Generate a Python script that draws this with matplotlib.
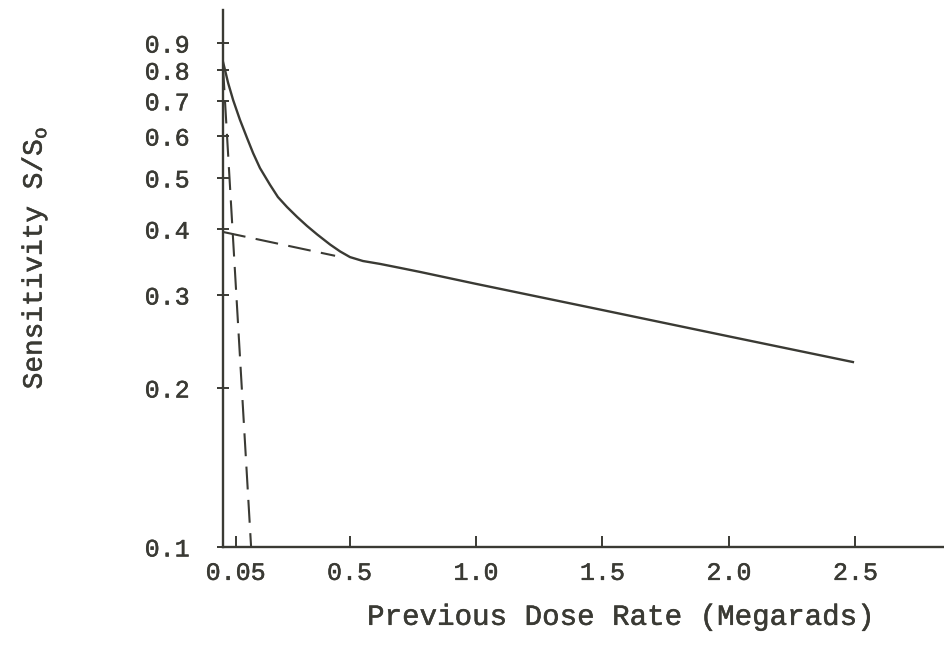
import matplotlib
matplotlib.use("Agg")
import matplotlib.pyplot as plt
import matplotlib.patheffects as pe
import numpy as np

# values
curve_x = [0.0, 0.008, 0.020, 0.040, 0.067, 0.095, 0.119, 0.146, 0.186, 0.217,
           0.253, 0.293, 0.332, 0.372, 0.423, 0.463, 0.502, 0.553, 0.621, 0.700,
           0.779, 1.0, 1.5, 2.0, 2.49]
curve_y = [0.829, 0.800, 0.757, 0.702, 0.644, 0.595, 0.557, 0.522, 0.485, 0.460,
           0.4404, 0.4217, 0.4055, 0.3908, 0.374, 0.3628, 0.354, 0.348, 0.3436, 0.3377,
           0.3318, 0.315, 0.281, 0.2505, 0.224]

slow_x = [0.0, 0.443]
slow_y = [0.395, 0.356]

fast_x = [0.0, 0.111]
fast_y = [0.81, 0.10]

xticks = [0.05, 0.5, 1.0, 1.5, 2.0, 2.5]
xtick_labels = ["0.05", "0.5", "1.0", "1.5", "2.0", "2.5"]
yticks = [0.1, 0.2, 0.3, 0.4, 0.5, 0.6, 0.7, 0.8, 0.9]
ytick_labels = ["0.1", "0.2", "0.3", "0.4", "0.5", "0.6", "0.7", "0.8", "0.9"]

ink = "#3a3a34"
plt.rcParams["font.family"] = ["Liberation Mono", "DejaVu Sans Mono"]
plt.rcParams["text.color"] = ink

fig = plt.figure(figsize=(9.45, 6.47), dpi=100)
ax = fig.add_axes([0.236, 0.1546, 0.764, 0.83])

ax.plot(curve_x, curve_y, color=ink, lw=1.7, solid_joinstyle="round")
ax.plot(slow_x, slow_y, color=ink, lw=1.5, dashes=(11, 5))
ax.plot(fast_x, fast_y, color=ink, lw=1.5, dashes=(11, 5))

ax.set_yscale("log")
ax.set_xlim(0, 2.854)
ax.set_ylim(0.1, 1.04)

ax.set_xticks(xticks)
ax.set_xticklabels(xtick_labels)
ax.set_yticks(yticks)
ax.set_yticklabels(ytick_labels)
ax.yaxis.set_minor_locator(matplotlib.ticker.NullLocator())

for side in ["top", "right"]:
    ax.spines[side].set_visible(False)
for side in ["left", "bottom"]:
    ax.spines[side].set_color(ink)
    ax.spines[side].set_linewidth(1.7)

ax.tick_params(axis="x", direction="in", length=8, width=1.4, color=ink,
               labelsize=18, labelcolor=ink, pad=10)
ax.tick_params(axis="y", direction="inout", length=8, width=1.4, color=ink,
               labelsize=18, labelcolor=ink, pad=20)

ax.set_xlabel("Previous Dose Rate (Megarads)", fontsize=21, color=ink)
ax.set_ylabel(r"Sensitivity S/S$_\mathregular{o}$", fontsize=20, color=ink)
ax.xaxis.set_label_coords(0.551, -0.104)
ax.yaxis.set_label_coords(-0.24, 0.538)

# typewriter ink is a little heavier than the regular face
heavier = [pe.withStroke(linewidth=0.35, foreground=ink)]
for t in ax.get_xticklabels() + ax.get_yticklabels():
    t.set_path_effects(heavier)
ax.xaxis.label.set_path_effects(heavier)
ax.yaxis.label.set_path_effects(heavier)

fig.savefig("out.png", dpi=100)
